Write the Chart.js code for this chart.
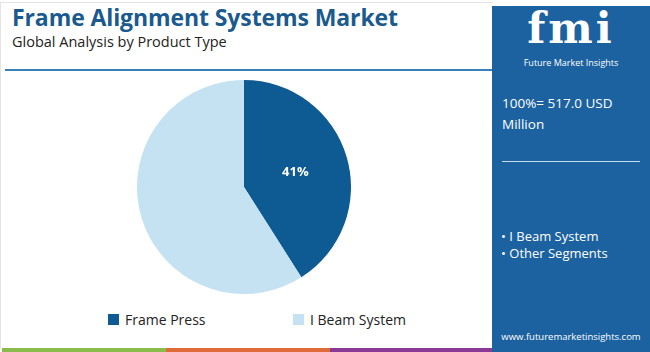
<!DOCTYPE html>
<html>
<head>
<meta charset="utf-8">
<script src="https://cdn.jsdelivr.net/npm/chart.js@4.4.1/dist/chart.umd.min.js"></script>
<style>
body { margin: 0; width: 650px; height: 352px; background: #fff; font-family: "Open Sans", sans-serif; position: relative; overflow: hidden; }
.card { position: absolute; left: 0; top: 2px; width: 492px; height: 346px; border-left: 1px solid #e4e4e4; border-top: 1px solid #e4e4e4; }
h1 { position: absolute; left: 12px; top: 1px; margin: 0; font-size: 23px; font-weight: 700; color: #1a5a8e; letter-spacing: -0.1px; }
.sub { position: absolute; left: 12px; top: 32px; font-size: 14.5px; color: #222; }
.rule { position: absolute; left: 5px; top: 69px; width: 487px; height: 2px; background: #3a80b8; }
#wrap { position: absolute; left: 137px; top: 80px; width: 214px; height: 214px; }
#legend { position: absolute; top: 310px; left: 0; width: 490px; font-size: 14px; color: #222; }
.li { position: absolute; display: flex; align-items: center; }
.li span.box { width: 11px; height: 11px; margin-right: 6px; display: inline-block; }
.strip { position: absolute; top: 348px; height: 4px; }
.panel { position: absolute; left: 492px; top: 6px; width: 158px; height: 346px; background: #1c62a0; color: #fff; }
.logo { position: absolute; left: 0; width: 158px; text-align: center; top: -2px; height: 50px; line-height: 50px; font-family: "DejaVu Serif", serif; font-weight: 700; font-size: 42px; letter-spacing: 3px; }
.logosub { position: absolute; left: 0; width: 158px; text-align: center; top: 51px; font-size: 9px; line-height: 11px; }
.total { position: absolute; left: 10px; top: 87px; font-size: 13.5px; line-height: 21px; }
.div { position: absolute; left: 10px; top: 155px; width: 138px; height: 1px; background: #c9dcee; }
.bul { position: absolute; left: 9px; top: 222px; font-size: 13px; line-height: 17px; }
.web { position: absolute; left: 0; width: 158px; text-align: center; top: 324px; font-size: 9.5px; }
</style>
</head>
<body>
<div class="card"></div>
<h1>Frame Alignment Systems Market</h1>
<div class="sub">Global Analysis by Product Type</div>
<div class="rule"></div>
<div id="wrap"><canvas id="pie"></canvas></div>
<div id="legend"></div>
<div class="strip" style="left:2px;width:164px;background:#8bbb4c"></div>
<div class="strip" style="left:166px;width:164px;background:#e06b3a"></div>
<div class="strip" style="left:330px;width:164px;background:#8a3a94"></div>
<div class="panel">
  <div class="logo">fmi</div>
  <div class="logosub">Future Market Insights</div>
  <div class="total">100%= 517.0 USD<br>Million</div>
  <div class="div"></div>
  <div class="bul">• I Beam System<br>• Other Segments</div>
  <div class="web">www.futuremarketinsights.com</div>
</div>
<script>
var segments = ['Frame Press', 'I Beam System'];
var shares = [41, 59];
var shareLabels = ['41%', ''];
var colors = ['#0e5a93', '#c5e2f3'];
var legendX = [108, 293];

var legend = document.getElementById('legend');
segments.forEach(function (s, i) {
    var el = document.createElement('div');
    el.className = 'li';
    el.style.left = legendX[i] + 'px';
    el.innerHTML = '<span class="box" style="background:' + colors[i] + '"></span>' + s;
    legend.appendChild(el);
});

var sliceLabels = {
    id: 'sliceLabels',
    afterDatasetsDraw: function (chart) {
        var ctx = chart.ctx;
        chart.getDatasetMeta(0).data.forEach(function (arc, i) {
            if (!shareLabels[i]) return;
            var p = arc.getCenterPoint();
            ctx.save();
            ctx.fillStyle = '#fff';
            ctx.font = 'bold 13px "Open Sans"';
            ctx.textAlign = 'center';
            ctx.textBaseline = 'middle';
            ctx.fillText(shareLabels[i], p.x, p.y);
            ctx.restore();
        });
    }
};

var pieChart = new Chart(document.getElementById('pie'), {
    type: 'pie',
    data: {
        labels: segments,
        datasets: [{
            data: shares,
            backgroundColor: colors,
            borderWidth: 0
        }]
    },
    options: {
        responsive: true,
        maintainAspectRatio: false,
        animation: false,
        plugins: {
            legend: { display: false },
            tooltip: { enabled: false }
        }
    },
    plugins: [sliceLabels]
});
</script>
</body>
</html>
